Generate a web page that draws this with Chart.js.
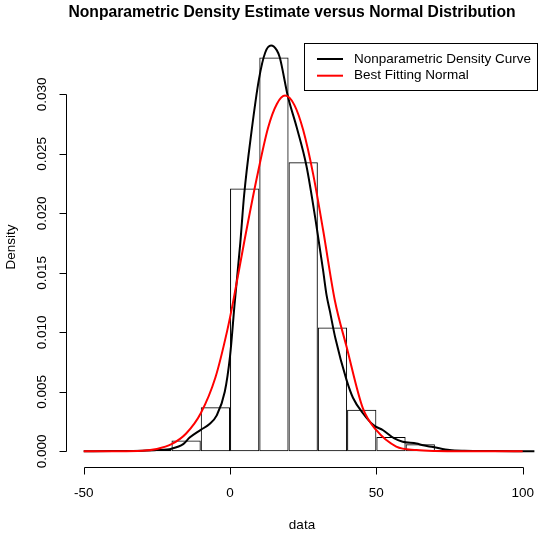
<!DOCTYPE html>
<html>
<head>
<meta charset="utf-8">
<script src="https://cdn.jsdelivr.net/npm/chart.js@4/dist/chart.umd.min.js"></script>
<style>
  body { margin: 0; background: #fff; }
  canvas { display: block; }
</style>
</head>
<body>
<canvas id="densityChart" width="540" height="536"></canvas>
<script>
// histogram bins (centres of 10-wide bins) and their densities
var binCenters = [-25, -15, -5, 5, 15, 25, 35, 45, 55, 65, 75];
var histDensity = [0.0001, 0.0009, 0.0037, 0.0221, 0.0331, 0.0243, 0.0104, 0.0035, 0.0012, 0.0006, 0.0001];

// nonparametric density curve
var kdeX = [-50, -40, -30, -25, -20, -16, -13.8, -10, -7, -4.6, -1.8, 0, 1.6, 3.5, 4.8, 7.3, 9.9, 12, 14, 16, 17, 19.8, 22.7, 26.1, 29.5, 31.8, 33, 34.1, 36, 39.8, 42, 45.4, 49, 52.3, 56, 59, 63.7, 66, 69.4, 75, 80, 90, 104];
var kdeY = [0, 0.00002, 0.00005, 0.0001, 0.00022, 0.0006, 0.00115, 0.0018, 0.0023, 0.0030, 0.0050, 0.0080, 0.0125, 0.0175, 0.0215, 0.0268, 0.0313, 0.0335, 0.0341, 0.0337, 0.0331, 0.0298, 0.0273, 0.0240, 0.0190, 0.0152, 0.0131, 0.0118, 0.0095, 0.0060, 0.0045, 0.0032, 0.0022, 0.00177, 0.0011, 0.0008, 0.00065, 0.0005, 0.00036, 0.0001, 0.00004, 0.00002, 0];

// best fitting normal curve
var normX = [-50, -40, -30, -25, -20, -15, -10, -5, -1, 1, 5, 9, 13, 16, 18.8, 22, 25, 28.4, 31.8, 35.8, 39.8, 45.4, 50, 56.8, 63.7, 70, 80, 100];
var normY = [0, 0.00001, 0.00005, 0.0002, 0.0006, 0.0015, 0.0032, 0.0062, 0.0101, 0.0125, 0.0178, 0.0228, 0.0272, 0.0292, 0.0299, 0.0291, 0.0270, 0.0233, 0.0186, 0.0127, 0.0088, 0.0036, 0.00177, 0.0004, 0.0001, 0.00002, 0, 0];

var xTicks = [-50, 0, 50, 100];
var yTicks = [0, 0.005, 0.010, 0.015, 0.020, 0.025, 0.030];
var yTickLabels = ["0.000", "0.005", "0.010", "0.015", "0.020", "0.025", "0.030"];

var chartTitle = "Nonparametric Density Estimate versus Normal Distribution";
var xTitle = "data";
var yTitle = "Density";

function toPoints(xs, ys) {
    return xs.map(function (x, i) { return { x: x, y: ys[i] }; });
}

var baseFont = "Liberation Sans, Arial, Helvetica, sans-serif";

// R style axes, labels, title and legend
var rStyle = {
    id: "rStyle",
    afterDraw: function (chart) {
        var ctx = chart.ctx;
        var xs = chart.scales.x, ys = chart.scales.y;
        var area = chart.chartArea;
        ctx.save();
        ctx.strokeStyle = "#000";
        ctx.fillStyle = "#000";
        ctx.lineWidth = 1;

        // y axis
        var ax = Math.round(area.left) + 0.5;
        ctx.beginPath();
        ctx.moveTo(ax, Math.round(ys.getPixelForValue(yTicks[0])) + 0.5);
        ctx.lineTo(ax, Math.round(ys.getPixelForValue(yTicks[yTicks.length - 1])) + 0.5);
        yTicks.forEach(function (v) {
            var py = Math.round(ys.getPixelForValue(v)) + 0.5;
            ctx.moveTo(ax, py);
            ctx.lineTo(ax - 7, py);
        });
        ctx.stroke();
        ctx.font = "13.5px " + baseFont;
        ctx.textAlign = "center";
        ctx.textBaseline = "middle";
        yTicks.forEach(function (v, i) {
            ctx.save();
            ctx.translate(42, ys.getPixelForValue(v));
            ctx.rotate(-Math.PI / 2);
            ctx.fillText(yTickLabels[i], 0, 0);
            ctx.restore();
        });
        ctx.save();
        ctx.translate(11, (area.top + area.bottom) / 2 - 8);
        ctx.rotate(-Math.PI / 2);
        ctx.fillText(yTitle, 0, 0);
        ctx.restore();

        // x axis
        var ay = Math.round(area.bottom) + 0.5;
        ctx.beginPath();
        ctx.moveTo(Math.round(xs.getPixelForValue(xTicks[0])) + 0.5, ay);
        ctx.lineTo(Math.round(xs.getPixelForValue(xTicks[xTicks.length - 1])) + 0.5, ay);
        xTicks.forEach(function (v) {
            var px = Math.round(xs.getPixelForValue(v)) + 0.5;
            ctx.moveTo(px, ay);
            ctx.lineTo(px, ay + 7);
        });
        ctx.stroke();
        xTicks.forEach(function (v) {
            ctx.fillText(String(v), xs.getPixelForValue(v), 493);
        });
        ctx.fillText(xTitle, 302, 525);

        // title
        ctx.font = "bold 15.7px " + baseFont;
        ctx.fillText(chartTitle, 292, 13);

        // legend box
        var lx = 304.5, ly = 43.5, lw = 233, lh = 47;
        ctx.fillStyle = "#fff";
        ctx.fillRect(lx, ly, lw, lh);
        ctx.strokeStyle = "#000";
        ctx.strokeRect(lx, ly, lw, lh);
        ctx.font = "13.5px " + baseFont;
        ctx.textAlign = "left";
        var rows = [chart.data.datasets[1], chart.data.datasets[2]];
        rows.forEach(function (ds, i) {
            var ry = 59 + i * 16.7;
            ctx.strokeStyle = ds.borderColor;
            ctx.lineWidth = 2;
            ctx.beginPath();
            ctx.moveTo(317, ry);
            ctx.lineTo(343, ry);
            ctx.stroke();
            ctx.fillStyle = "#000";
            ctx.fillText(ds.label, 354, ry);
        });
        ctx.restore();
    }
};

new Chart(document.getElementById("densityChart"), {
    type: "bar",
    data: {
        datasets: [
            {
                type: "bar",
                label: "Histogram",
                data: toPoints(binCenters, histDensity),
                backgroundColor: "rgba(0,0,0,0)",
                borderColor: "#000",
                borderWidth: 1,
                borderSkipped: false,
                inflateAmount: 0,
                barPercentage: 1,
                categoryPercentage: 1,
                order: 3
            },
            {
                type: "line",
                label: "Nonparametric Density Curve",
                data: toPoints(kdeX, kdeY),
                borderColor: "#000",
                borderWidth: 2,
                pointRadius: 0,
                cubicInterpolationMode: "monotone",
                fill: false,
                order: 2
            },
            {
                type: "line",
                label: "Best Fitting Normal",
                data: toPoints(normX, normY),
                borderColor: "#ff0000",
                borderWidth: 2,
                pointRadius: 0,
                cubicInterpolationMode: "monotone",
                fill: false,
                order: 1
            }
        ]
    },
    options: {
        responsive: false,
        animation: false,
        events: [],
        layout: { padding: { left: 66, right: 1.5, top: 43, bottom: 69 } },
        plugins: {
            legend: { display: false },
            title: { display: false },
            tooltip: { enabled: false }
        },
        scales: {
            x: { type: "linear", display: false, offset: false, min: -56.05, max: 105.4 },
            y: { type: "linear", display: false, min: -0.00132, max: 0.03432 }
        }
    },
    plugins: [rStyle]
});
</script>
</body>
</html>
